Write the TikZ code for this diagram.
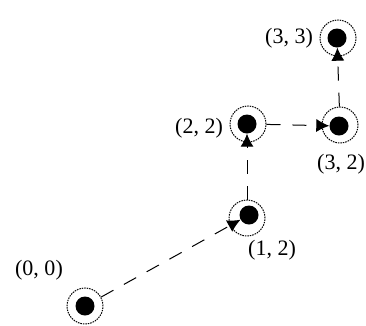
\documentclass[tikz,border=0pt]{standalone}
\usepackage{fontspec}
\setmainfont{Liberation Serif}
\usetikzlibrary{arrows.meta}
\begin{document}
\begin{tikzpicture}[x=1pt,y=-1pt,
  ring/.style={circle,draw,line width=1pt,dash pattern=on 1.5pt off 1pt,minimum size=36pt,inner sep=0pt},
  dot/.style={circle,fill=black,minimum size=19pt,inner sep=0pt},
  edge/.style={line width=1pt,dash pattern=on 14pt off 12pt,-{Latex[length=13pt,width=13pt]}},
  lab/.style={font=\fontsize{22}{24}\selectfont,inner sep=0pt}]
\useasboundingbox (0,0) rectangle (366,325);
\node[ring] (a) at (85,306) {};
\node[dot] (ad) at (85,306) {};
\node[ring] (b) at (247,218) {};
\node[dot] (bd) at (249,215) {};
\node[ring] (c) at (248,124) {};
\node[dot] (cd) at (247,124) {};
\node[ring] (d) at (340,125) {};
\node[dot] (dd) at (339,126) {};
\node[ring] (e) at (338,38) {};
\node[dot] (ed) at (337,38) {};
\draw[edge] (a) -- (bd);
\draw[edge] (b) -- (cd);
\draw[edge] (c) -- (dd);
\draw[edge] (d) -- (ed);
\node[lab] (la) at (39,270) {(0, 0)};
\node[lab] (lb) at (272,250) {(1, 2)};
\node[lab] (lc) at (199,128) {(2, 2)};
\node[lab] (ld) at (341,164) {(3, 2)};
\node[lab] (le) at (289,38) {(3, 3)};
\end{tikzpicture}
\end{document}
